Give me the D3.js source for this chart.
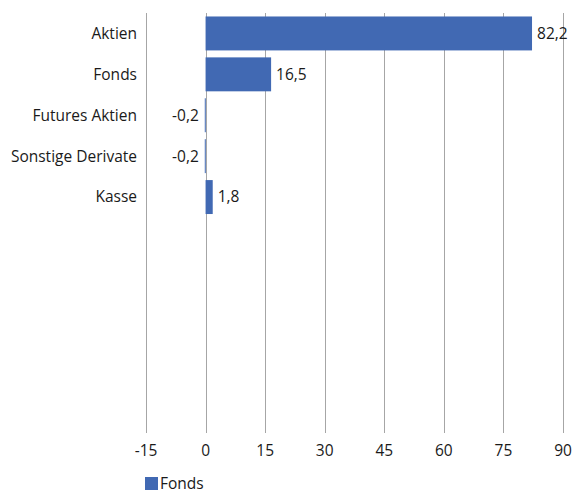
<!DOCTYPE html>
<html>
<head>
<meta charset="utf-8">
<script src="https://cdn.jsdelivr.net/npm/d3@7.9.0/dist/d3.min.js"></script>
<style>
  body { margin: 0; background: #fff; }
  text { font-family: "Open Sans", sans-serif; fill: #1a1a1a; }
</style>
</head>
<body>
<svg width="574" height="494"></svg>
<script>
const categories = ['Aktien', 'Fonds', 'Futures Aktien', 'Sonstige Derivate', 'Kasse'];
const values = [82.2, 16.5, -0.2, -0.2, 1.8];
const ticks = [-15, 0, 15, 30, 45, 60, 75, 90];
const seriesName = 'Fonds';

const svg = d3.select('svg');
const color = '#4169b3';
const fs = 15.5;

const x = d3.scaleLinear().domain([-15, 90]).range([146, 563]);

// 10 slots in the plot, only the first 5 are used
const slots = categories.concat(['_1', '_2', '_3', '_4', '_5']);
const y = d3.scaleBand().domain(slots).range([13, 422]).paddingInner(0.17).paddingOuter(0.085);

// grid lines
svg.append('g')
  .selectAll('line')
  .data(ticks)
  .join('line')
  .attr('x1', d => Math.round(x(d)) + 0.5)
  .attr('x2', d => Math.round(x(d)) + 0.5)
  .attr('y1', 13)
  .attr('y2', 433)
  .attr('stroke', '#a6a6a6')
  .attr('stroke-width', 1);

// tick labels
svg.append('g')
  .selectAll('text')
  .data(ticks)
  .join('text')
  .attr('x', d => x(d))
  .attr('y', 456)
  .attr('text-anchor', 'middle')
  .attr('font-size', fs)
  .text(d => d);

const data = categories.map((c, i) => ({ label: c, value: values[i] }));

// bars
svg.append('g')
  .selectAll('rect')
  .data(data)
  .join('rect')
  .attr('x', d => x(Math.min(0, d.value)))
  .attr('y', d => y(d.label))
  .attr('width', d => Math.max(1, Math.abs(x(d.value) - x(0))))
  .attr('height', y.bandwidth())
  .attr('fill', color);

// category labels
svg.append('g')
  .selectAll('text')
  .data(data)
  .join('text')
  .attr('x', 137)
  .attr('y', d => y(d.label) + y.bandwidth() / 2)
  .attr('dy', '0.35em')
  .attr('text-anchor', 'end')
  .attr('font-size', fs)
  .text(d => d.label);

// value labels
const fmt = v => d3.format('.1f')(v).replace('.', ',').replace('−', '-');
svg.append('g')
  .selectAll('text')
  .data(data)
  .join('text')
  .attr('x', d => d.value < 0 ? x(d.value) - 6 : x(d.value) + 5)
  .attr('y', d => y(d.label) + y.bandwidth() / 2)
  .attr('dy', '0.35em')
  .attr('text-anchor', d => d.value < 0 ? 'end' : 'start')
  .attr('font-size', fs)
  .text(d => fmt(d.value));

// legend
const legend = svg.append('g').attr('transform', 'translate(145,477)');
legend.append('rect').attr('width', 13).attr('height', 13).attr('fill', color);
legend.append('text').attr('x', 15).attr('y', 6.5).attr('dy', '0.35em').attr('font-size', fs).text(seriesName);
</script>
</body>
</html>
